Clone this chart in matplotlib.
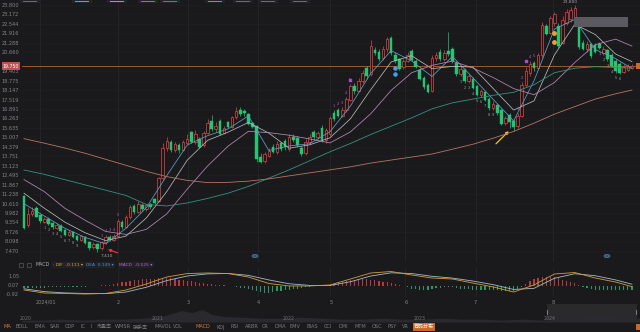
import matplotlib
matplotlib.use('Agg')
import matplotlib.pyplot as plt
import numpy as np
from matplotlib.patches import Rectangle, Circle

plt.rcParams['font.family'] = ['DejaVu Sans', 'Noto Sans CJK SC']

# Dnevne svece (jan - avg 2024)
opens = [11.10, 9.20, 9.90, 10.30, 9.85, 9.40, 9.60, 9.30, 9.00, 9.15,
         8.85, 8.55, 8.75, 8.45, 8.20, 8.40, 8.05, 7.70, 7.95, 7.65,
         8.05, 8.40, 8.20, 8.45, 9.40, 9.05, 9.70, 10.45, 10.05, 10.50,
         10.25, 10.55, 10.90, 10.75, 12.30, 14.30, 14.70, 14.20, 14.50, 14.20,
         14.65, 15.35, 14.70, 14.90, 14.50, 15.30, 16.10, 15.55, 16.10, 15.30,
         16.00, 15.70, 16.35, 16.80, 16.75, 16.55, 15.95, 15.75, 13.70, 13.45,
         13.80, 14.40, 14.05, 14.60, 14.75, 14.25, 15.05, 14.95, 14.30, 13.95,
         14.70, 15.35, 15.00, 15.65, 14.80, 15.20, 16.60, 16.80, 16.45, 16.85,
         17.50, 18.40, 18.10, 18.75, 19.60, 19.20, 20.80, 20.70, 20.30, 20.90,
         21.60, 20.50, 20.20, 19.65, 20.10, 20.75, 20.10, 19.50, 18.95, 18.50,
         18.10, 20.25, 20.70, 20.20, 20.75, 20.90, 19.95, 19.20, 19.50, 18.75,
         18.90, 18.40, 17.85, 18.00, 17.55, 16.95, 17.15, 16.80, 15.95, 16.50,
         16.10, 15.75, 16.45, 18.50, 19.30, 19.95, 19.60, 20.45, 22.40, 21.95,
         22.60, 22.40, 21.30, 22.60, 22.90, 23.00, 22.40, 21.30, 20.85, 21.20,
         21.15, 21.20, 20.60, 20.80, 20.50, 20.05, 19.90, 19.35, 19.45, 19.60]
highs = [11.20, 10.30, 10.35, 10.45, 9.95, 9.70, 9.70, 9.40, 9.30, 9.25,
         8.95, 8.85, 8.80, 8.50, 8.55, 8.45, 8.10, 8.05, 8.00, 8.15,
         8.50, 8.55, 8.60, 9.60, 9.55, 9.85, 10.50, 10.60, 10.75, 10.65,
         10.60, 10.65, 11.00, 12.40, 14.60, 15.05, 14.85, 14.70, 14.60, 14.85,
         15.25, 15.45, 15.50, 15.05, 15.45, 16.20, 16.50, 16.00, 16.25, 15.75,
         16.10, 16.45, 17.05, 17.00, 16.90, 16.65, 16.05, 15.85, 14.00, 14.05,
         14.30, 14.55, 14.75, 14.70, 14.90, 15.20, 15.20, 15.10, 14.45, 14.90,
         15.25, 15.50, 15.40, 15.80, 15.60, 16.40, 16.80, 16.95, 17.00, 17.70,
         18.55, 18.60, 18.95, 19.50, 19.75, 21.45, 21.00, 20.85, 21.10, 21.70,
         21.75, 20.65, 20.30, 20.20, 20.65, 20.90, 20.20, 19.60, 19.05, 18.60,
         20.45, 20.70, 20.85, 20.80, 22.00, 21.00, 20.05, 19.75, 19.60, 19.20,
         19.00, 18.50, 18.25, 18.10, 17.70, 17.40, 17.25, 16.90, 16.45, 16.60,
         16.20, 16.60, 18.70, 19.70, 20.05, 20.10, 20.60, 22.70, 22.55, 23.10,
         23.35, 22.60, 23.10, 23.55, 23.65, 23.80, 22.50, 21.45, 21.40, 21.30,
         21.30, 21.35, 21.05, 20.90, 20.60, 20.20, 20.00, 19.85, 19.90, 19.85]
lows = [8.95, 9.05, 9.80, 9.70, 9.35, 9.30, 9.20, 8.95, 8.90, 8.70,
        8.45, 8.45, 8.30, 8.10, 8.15, 7.90, 7.55, 7.60, 7.41, 7.55,
        7.95, 8.10, 8.15, 8.40, 8.95, 9.00, 9.60, 9.95, 10.00, 10.15,
        10.15, 10.25, 10.55, 10.70, 12.20, 14.10, 14.05, 14.05, 14.00, 14.10,
        14.55, 14.60, 14.55, 14.30, 14.40, 15.20, 15.45, 15.35, 15.15, 15.20,
        15.60, 15.60, 16.25, 16.40, 16.45, 15.80, 15.60, 13.40, 13.30, 13.30,
        13.70, 13.95, 13.90, 14.10, 14.20, 14.10, 14.70, 14.40, 13.80, 13.85,
        14.55, 14.85, 14.90, 14.70, 14.60, 15.10, 16.10, 16.35, 16.35, 16.70,
        17.40, 17.90, 18.00, 18.60, 18.90, 19.10, 20.45, 20.05, 20.15, 20.70,
        20.50, 19.95, 19.45, 19.55, 20.00, 20.05, 19.60, 18.80, 18.25, 17.95,
        18.00, 20.10, 20.10, 20.05, 20.40, 19.95, 19.10, 19.05, 18.65, 18.60,
        18.20, 17.75, 17.70, 17.40, 16.85, 16.80, 16.50, 15.80, 15.85, 15.60,
        15.45, 15.65, 16.35, 18.35, 19.10, 19.40, 19.50, 20.30, 21.80, 21.85,
        22.40, 20.95, 21.20, 22.45, 22.70, 22.85, 20.90, 20.80, 20.70, 20.30,
        20.60, 20.85, 20.50, 20.10, 19.65, 19.30, 19.20, 19.25, 19.40, 19.55]
closes = [9.00, 9.95, 10.15, 9.75, 9.45, 9.60, 9.25, 9.05, 9.20, 8.80,
          8.55, 8.75, 8.40, 8.20, 8.45, 8.00, 7.65, 7.95, 7.60, 8.05,
          8.40, 8.20, 8.45, 9.45, 9.05, 9.70, 10.35, 10.05, 10.55, 10.25,
          10.50, 10.35, 10.65, 12.30, 14.30, 14.75, 14.20, 14.55, 14.15, 14.70,
          14.90, 14.70, 15.25, 14.40, 15.30, 15.95, 15.55, 15.75, 15.25, 15.60,
          15.70, 16.35, 16.75, 16.55, 16.60, 15.90, 15.70, 13.60, 13.40, 13.90,
          14.10, 14.05, 14.55, 14.25, 14.35, 15.00, 14.80, 14.50, 13.90, 14.70,
          15.00, 15.00, 15.30, 14.80, 15.50, 16.30, 16.20, 16.45, 16.85, 17.55,
          18.40, 18.10, 18.75, 19.30, 19.05, 21.10, 20.60, 20.20, 20.90, 21.55,
          20.60, 20.10, 19.55, 20.10, 20.50, 20.15, 19.70, 18.90, 18.35, 18.05,
          20.25, 20.45, 20.20, 20.60, 20.55, 20.10, 19.20, 19.55, 18.75, 19.05,
          18.30, 17.85, 18.10, 17.50, 16.95, 17.25, 16.60, 15.90, 16.30, 16.00,
          15.70, 16.40, 18.50, 19.40, 19.90, 19.60, 20.45, 22.50, 21.90, 22.95,
          23.20, 21.05, 22.80, 23.30, 23.45, 23.60, 21.00, 20.90, 21.20, 20.40,
          20.70, 20.95, 20.90, 20.20, 19.75, 19.40, 19.30, 19.70, 19.75, 19.75]

# Drsna povprecja, odcitana vsakih 5 dni
ma_idx = [0, 5, 10, 15, 20, 25, 30, 35, 40, 45, 50, 55, 60, 65, 70, 75, 80, 85,
          90, 95, 100, 105, 110, 115, 120, 125, 130, 135, 140, 145, 149]
ma5 = [10.60, 9.78, 8.97, 8.36, 7.93, 8.97, 10.34, 12.47, 14.50, 15.12, 15.57,
       16.43, 14.14, 14.44, 14.58, 15.38, 17.09, 19.26, 20.77, 20.08, 19.05,
       20.38, 18.97, 17.53, 16.10, 18.76, 22.20, 22.84, 20.84, 20.24, 19.58]
ma10 = [11.30, 10.30, 9.38, 8.67, 8.15, 8.45, 9.66, 11.41, 13.49, 14.81, 15.35,
        16.00, 15.29, 14.29, 14.51, 14.98, 16.24, 18.18, 20.02, 20.43, 19.57,
        19.72, 19.68, 18.25, 16.82, 17.43, 20.48, 22.52, 21.84, 20.54, 20.04]
ma20 = [12.20, 11.40, 10.30, 9.50, 8.76, 8.56, 8.90, 9.93, 11.57, 13.11, 14.42,
        15.41, 15.32, 15.15, 14.90, 14.64, 15.37, 16.58, 18.13, 19.30, 19.79,
        20.07, 19.62, 18.98, 18.25, 17.84, 18.65, 19.98, 21.16, 21.53, 21.07]
ma60 = [12.84, 12.55, 12.20, 11.85, 11.50, 11.15, 10.55, 10.45, 10.65, 10.95, 11.30,
        11.75, 12.30, 12.85, 13.45, 14.05, 14.60, 15.20, 15.75, 16.30, 16.90,
        17.30, 17.55, 17.80, 18.00, 18.50, 19.30, 19.60, 19.70, 19.65, 19.60]
ma250 = [14.92, 14.62, 14.30, 13.95, 13.55, 13.15, 12.75, 12.40, 12.15, 12.00, 12.02,
         12.10, 12.25, 12.45, 12.65, 12.85, 13.05, 13.30, 13.50, 13.70, 13.90,
         14.22, 14.55, 14.95, 15.40, 15.95, 16.55, 17.05, 17.55, 17.90, 18.15]

# MACD
dif = [-0.48, -0.81, -0.86, -0.92, -0.86, -0.48, 0.18, 0.94, 1.32, 1.38, 1.32,
       0.94, 0.23, -0.04, -0.04, 0.07, 0.72, 1.38, 1.54, 1.16, 0.83,
       0.72, 0.28, -0.15, -0.70, 0.07, 1.27, 1.43, 0.83, 0.39, -0.111]
dea = [-0.35, -0.66, -0.80, -0.86, -0.88, -0.70, -0.18, 0.55, 1.05, 1.28, 1.33,
       1.12, 0.62, 0.20, 0.02, 0.02, 0.42, 1.05, 1.40, 1.32, 1.02,
       0.82, 0.50, 0.10, -0.42, -0.30, 0.80, 1.30, 1.08, 0.62, 0.149]
macd_hist = [-0.25, -0.27, -0.30, -0.30, -0.28, -0.25, -0.20, -0.16, -0.13, -0.12,
             -0.12, -0.12, -0.12, -0.11, -0.10, -0.10, -0.08, -0.05, -0.02, 0.02,
             0.06, 0.12, 0.18, 0.26, 0.34, 0.42, 0.50, 0.58, 0.64, 0.70,
             0.72, 0.74, 0.76, 0.80, 0.84, 0.82, 0.78, 0.72, 0.66, 0.60,
             0.54, 0.46, 0.38, 0.30, 0.24, 0.20, 0.14, 0.10, 0.05, 0.02,
             -0.02, -0.08, -0.14, -0.22, -0.30, -0.38, -0.52, -0.64, -0.74, -0.78,
             -0.78, -0.72, -0.64, -0.58, -0.52, -0.48, -0.40, -0.32, -0.24, -0.18,
             -0.12, -0.06, -0.02, 0.02, 0.06, 0.10, 0.20, 0.32, 0.44, 0.54,
             0.60, 0.66, 0.70, 0.72, 0.70, 0.66, 0.58, 0.50, 0.42, 0.34,
             0.28, 0.16, 0.04, -0.08, -0.20, -0.32, -0.40, -0.48, -0.50, -0.46,
             -0.38, -0.30, -0.24, -0.20, -0.18, -0.20, -0.26, -0.32, -0.38, -0.42,
             -0.44, -0.46, -0.48, -0.50, -0.50, -0.50, -0.52, -0.54, -0.56, -0.56,
             -0.56, -0.40, -0.10, 0.20, 0.48, 0.74, 0.86, 0.94, 0.98, 0.96,
             0.94, 0.82, 0.66, 0.50, 0.38, 0.26, 0.06, -0.14, -0.30, -0.42,
             -0.50, -0.52, -0.50, -0.48, -0.46, -0.46, -0.48, -0.50, -0.52, -0.525]

last_price = 19.75
y_ticks = [23.800, 23.172, 22.544, 21.916, 21.288, 20.660, 19.403, 18.775, 18.147,
           17.519, 16.891, 16.263, 15.635, 15.007, 14.379, 13.751, 13.123, 12.495,
           11.867, 11.238, 10.610, 9.982, 9.354, 8.726, 8.098, 7.470]
macd_ticks = [1.05, 0.07, -0.92]
month_grid = [3.9, 23.0, 40.2, 57.4, 75.0, 93.4, 110.8, 129.7]
month_pos = [5.5, 23.2, 40.2, 57.4, 75.2, 93.6, 110.5, 129.7]
month_labels = ['2024/01', '2', '3', '4', '5', '6', '7', '8']

# TD stevci
td_down = [list(range(5, 14)), list(range(107, 116)), list(range(141, 147))]
td_up = [list(range(19, 24)), list(range(76, 81)), list(range(121, 126))]

# navigator (2020-2024)
nav_t = [0, 20, 40, 60, 80, 100, 120, 140, 150, 160, 170, 180, 190, 200, 220, 240,
         260, 280, 300, 320, 340, 360, 380, 400, 420, 440, 460, 480, 500, 520, 540,
         560, 580, 600, 618]
nav_v = [2, 2, 3, 2, 3, 3, 4, 6, 9, 12, 10, 13, 8, 6, 5, 4, 4, 5, 4, 3, 3, 4, 3,
         3, 4, 3, 3, 2, 3, 2, 3, 4, 5, 4, 4]
nav_years = ['2020', '2021', '2022', '2023', '2024']
nav_year_x = [26, 158, 289, 420, 550]

tools = ['MA', 'BOLL', 'EMA', 'SAR', 'CDP', 'IC', 'I', '市盈率', 'WMSR', '换手率',
         'MAVOL', 'VOL', 'MACD', 'KDJ', 'RSI', 'ARBR', 'CR', 'DMA', 'EMV', 'BIAS',
         'CCI', 'DMI', 'MTM', 'OSC', 'PSY', 'VR', '筹码分布']
tools_x = [7, 22, 40, 55, 70, 83, 91, 104, 123, 140, 163, 178, 203, 221, 235, 252,
           265, 280, 295, 312, 328, 343, 360, 377, 392, 405, 424]

BG = '#1a1a1c'
RED = '#e04848'
GREEN = '#25c672'
GRID = '#262629'
TXT = '#85858a'

W, H = 640, 332
fig = plt.figure(figsize=(6.4, 3.32), dpi=100, facecolor=BG)


def rect(x0, y0, x1, y1):
    return [x0 / W, 1 - y1 / H, (x1 - x0) / W, (y1 - y0) / H]


def ftext(x, y, s, **kw):
    fig.text(x / W, 1 - y / H, s, **kw)


def fbox(x0, y0, w, h, **kw):
    fig.patches.append(Rectangle((x0 / W, 1 - (y0 + h) / H), w / W, h / H,
                                 transform=fig.transFigure, **kw))


o = np.array(opens)
h = np.array(highs)
l = np.array(lows)
c = np.array(closes)
idx = np.arange(len(c))
up = c >= o

ax = fig.add_axes(rect(22, 0, 640, 262), facecolor=BG)
ax.set_xlim(-0.49, 150.98)
ax.set_ylim(6.73, 24.13)
for s in ax.spines.values():
    s.set_visible(False)
ax.set_yticks(y_ticks)
ax.set_yticklabels(['%.3f' % v for v in y_ticks])
ax.set_xticks([])
ax.tick_params(axis='y', length=0, pad=2, labelsize=3.6, labelcolor=TXT)
for v in y_ticks:
    ax.axhline(v, color='#1f1f22', lw=0.5, zorder=0)
for m in month_grid:
    ax.axvline(m, color=GRID, lw=0.6, zorder=0)

# svece
ax.vlines(idx[up], l[up], h[up], color=RED, lw=0.5, zorder=2)
ax.vlines(idx[~up], l[~up], h[~up], color=GREEN, lw=0.5, zorder=2)
ax.bar(idx[up], c[up] - o[up], bottom=o[up], width=0.62, facecolor=BG,
       edgecolor=RED, lw=0.5, zorder=3)
ax.bar(idx[~up], o[~up] - c[~up], bottom=c[~up], width=0.62, facecolor=GREEN,
       edgecolor=GREEN, lw=0.3, zorder=3)

ax.plot(ma_idx, ma5, color='#5f9fc8', lw=0.55, zorder=4)
ax.plot(ma_idx, ma10, color='#b8b8bc', lw=0.55, zorder=4)
ax.plot(ma_idx, ma20, color='#b888b8', lw=0.55, zorder=4)
ax.plot(ma_idx, ma60, color='#329282', lw=0.6, zorder=4)
ax.plot(ma_idx, ma250, color='#b87462', lw=0.6, zorder=4)

ax.axhline(last_price, color='#b5652a', lw=0.6, zorder=1)

for grp in td_down:
    for n, i in enumerate(grp):
        ax.text(i, lows[i] - 0.2, str(n + 1), color='#9a9a9a', fontsize=2.6,
                ha='center', va='top', zorder=5)
for grp in td_up:
    for n, i in enumerate(grp):
        ax.text(i, highs[i] + 0.15, str(n + 1), color='#b060d0', fontsize=2.6,
                ha='center', va='bottom', zorder=5)

ax.scatter([80, 123], [18.85, 20.05], marker='s', s=4, color='#a050c8', zorder=6)
ax.scatter([91, 91], [19.62, 19.22], marker='o', s=5, color='#4a9af0', zorder=6)
ax.scatter([130, 130], [21.94, 21.34], marker='o', s=6, color='#f0a030', zorder=6)

ax.text(133.8, 23.86, '23.800', color='#a0a0a4', fontsize=3.2, ha='center', va='bottom')
ax.text(20.2, 7.12, '7.410', color='#a0a0a4', fontsize=3.2, ha='center', va='center')
ax.annotate('', xy=(19.9, 7.62), xytext=(23.6, 7.28),
            arrowprops=dict(arrowstyle='-|>', color='#e23535', lw=0.9, mutation_scale=4))
ax.annotate('', xy=(119.3, 15.55), xytext=(115.2, 14.45),
            arrowprops=dict(arrowstyle='-|>', color='#f2c230', lw=0.9, mutation_scale=4))

# MACD panel
axm = fig.add_axes(rect(22, 268, 640, 297), facecolor=BG)
axm.set_xlim(-0.49, 150.98)
axm.set_ylim(-1.247, 1.925)
for s in axm.spines.values():
    s.set_visible(False)
hist = np.array(macd_hist)
axm.bar(idx, hist, width=0.3, color=np.where(hist >= 0, '#b83a3c', '#2a9a62'), zorder=2)
axm.plot(ma_idx, dea, color='#9fbccb', lw=0.6, zorder=3)
axm.plot(ma_idx, dif, color='#d79a38', lw=0.6, zorder=3)
for m in month_grid:
    axm.axvline(m, color=GRID, lw=0.6, zorder=0)
axm.set_yticks(macd_ticks)
axm.set_yticklabels(['%.2f' % v for v in macd_ticks])
axm.set_xticks(month_pos)
axm.set_xticklabels(month_labels)
axm.tick_params(length=0, labelsize=3.6, labelcolor=TXT, pad=2)

# navigator
axn = fig.add_axes(rect(22, 303, 640, 322), facecolor=BG)
axn.set_xlim(0, 618)
axn.set_ylim(0, 20)
axn.axis('off')
axn.fill_between(nav_t, 0, nav_v, color='#2a2a2e', lw=0)
for yr, xx in zip(nav_years, nav_year_x):
    ftext(xx, 319, yr, color='#707074', fontsize=3.4, ha='center', va='center')
fbox(547, 304, 90, 16, facecolor='#2c2c30', edgecolor='none', alpha=0.9)
for xx in [547, 636]:
    fbox(xx, 310, 1.2, 5, facecolor='#7a7a80')

# overlay elements
fbox(574, 17, 54, 10, facecolor='#5a5a60', edgecolor='none')
for xx in [255, 607]:
    fig.patches.append(Circle((xx / W, 1 - 256 / H), 3 / W, transform=fig.transFigure,
                              facecolor='#33527a', edgecolor='#6a8ab8', lw=0.4))
ftext(11, 66, '%.3f' % last_price, color='white', fontsize=3.4, ha='center', va='center',
      bbox=dict(boxstyle='square,pad=0.25', facecolor='#b85454', edgecolor='none'))
fbox(636, 63, 4, 6, facecolor='#c8692a')

# gornja legenda (odrezana)
for xx, col in [(30, '#6a6a6e'), (82, '#5f9fc8'), (117, '#b888b8'), (148, '#9a60c0'),
                (170, '#329282'), (215, '#b87462'), (243, '#6a6a6e'), (268, '#6a6a6e'),
                (300, '#6a6a6e')]:
    fbox(xx - 10, 0, 20, 2.5, facecolor='#242428')
    fbox(xx - 7, 0.6, 14, 1.0, facecolor=col)

# MACD legend
for xx in [21, 29]:
    fbox(xx - 2, 263, 4, 4, facecolor='none', edgecolor='#6a6a6e', lw=0.4)
ftext(35, 265, 'MACD', color='#b0b0b4', fontsize=3.4, va='center')
pill = dict(boxstyle='round,pad=0.3', facecolor='#222226', edgecolor='none')
ftext(53, 265, '\u00b7 DIF  -0.111 \u25be', color='#e0a23a', fontsize=3.2, va='center', bbox=pill)
ftext(86, 265, 'DEA  0.149 \u25be', color='#3d8fd6', fontsize=3.2, va='center', bbox=pill)
ftext(119, 265, 'MACD  -0.525 \u25be', color='#b46ad0', fontsize=3.2, va='center', bbox=pill)

# toolbar
for name, xx in zip(tools, tools_x):
    if name == '筹码分布':
        ftext(xx, 327, name, color='white', fontsize=3.6, ha='center', va='center',
              bbox=dict(boxstyle='square,pad=0.2', facecolor='#c8692a', edgecolor='none'))
    elif name in ('MA', 'MACD'):
        ftext(xx, 327, name, color='#e07a30', fontsize=3.6, ha='center', va='center')
    else:
        ftext(xx, 327, name, color='#7c7c80', fontsize=3.6, ha='center', va='center')
fbox(636, 324, 4, 6, facecolor='#c8692a')

fig.savefig('out.png', dpi=100, facecolor=BG)
